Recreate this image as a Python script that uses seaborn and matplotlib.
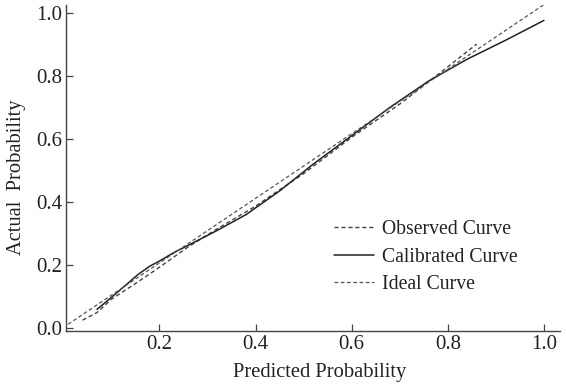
import numpy as np
import pandas as pd
import matplotlib
matplotlib.use('Agg')
import matplotlib.pyplot as plt
import seaborn as sns

# values
obs_x = [0.04, 0.07, 0.10, 0.13, 0.16, 0.19, 0.22, 0.26, 0.32, 0.40, 0.50, 0.60, 0.70, 0.80, 0.86]
obs_y = [0.026, 0.05, 0.092, 0.122, 0.152, 0.183, 0.215, 0.258, 0.315, 0.387, 0.49, 0.605, 0.71, 0.828, 0.90]

cal_x = [0.07, 0.10, 0.13, 0.155, 0.18, 0.20, 0.23, 0.26, 0.32, 0.38, 0.45, 0.52,
         0.60, 0.68, 0.76, 0.84, 0.92, 1.00]
cal_y = [0.06, 0.098, 0.137, 0.17, 0.197, 0.213, 0.24, 0.263, 0.31, 0.36, 0.435, 0.52,
         0.61, 0.70, 0.783, 0.852, 0.912, 0.975]

ideal_x = [0.01, 1.00]
ideal_y = [0.013, 1.025]

x_ticks = [0.2, 0.4, 0.6, 0.8, 1.0]
y_ticks = [0.0, 0.2, 0.4, 0.6, 0.8, 1.0]

sns.set_style('white')
plt.rcParams['font.family'] = ['Liberation Serif', 'DejaVu Serif']

fig = plt.figure(figsize=(5.66, 3.86), dpi=100)
ax = fig.add_axes([0.117, 0.142, 0.872, 0.846])

obs = pd.DataFrame({'x': obs_x, 'y': obs_y})
cal = pd.DataFrame({'x': cal_x, 'y': cal_y})
ideal = pd.DataFrame({'x': ideal_x, 'y': ideal_y})

sns.lineplot(data=obs, x='x', y='y', ax=ax, color='#444444', lw=1.0,
             linestyle=(0, (3, 2)), label='Observed Curve', sort=False)
sns.lineplot(data=cal, x='x', y='y', ax=ax, color='#222222', lw=1.1,
             label='Calibrated Curve', sort=False)
sns.lineplot(data=ideal, x='x', y='y', ax=ax, color='#555555', lw=0.9,
             linestyle=(0, (3, 2)), label='Ideal Curve', sort=False)

ax.set_xlim(0.006, 1.033)
ax.set_ylim(-0.009, 1.025)
ax.set_xticks(x_ticks)
ax.set_yticks(y_ticks)
ax.set_xticklabels([f'{v:.1f}' for v in x_ticks])
ax.set_yticklabels([f'{v:.1f}' for v in y_ticks])
ax.tick_params(direction='in', length=5, width=0.9, color='#444444',
               labelsize=15, labelcolor='#222222', pad=3, left=True, bottom=True)

for s in ['top', 'right']:
    ax.spines[s].set_visible(False)
for s in ['left', 'bottom']:
    ax.spines[s].set_color('#444444')
    ax.spines[s].set_linewidth(1.0)

ax.set_xlabel('Predicted Probability', fontsize=14.8, color='#222222')
ax.set_ylabel('Actual  Probability', fontsize=14.8, color='#222222')
ax.xaxis.set_label_coords(0.514, -0.097)
ax.yaxis.set_label_coords(-0.082, 0.47)

leg = ax.legend(loc='lower right', bbox_to_anchor=(0.95, 0.06), frameon=False,
                fontsize=14.2, handlelength=2.0, handletextpad=0.4, labelspacing=0.42)
for t in leg.get_texts():
    t.set_color('#222222')

fig.savefig('out.png', dpi=100)
